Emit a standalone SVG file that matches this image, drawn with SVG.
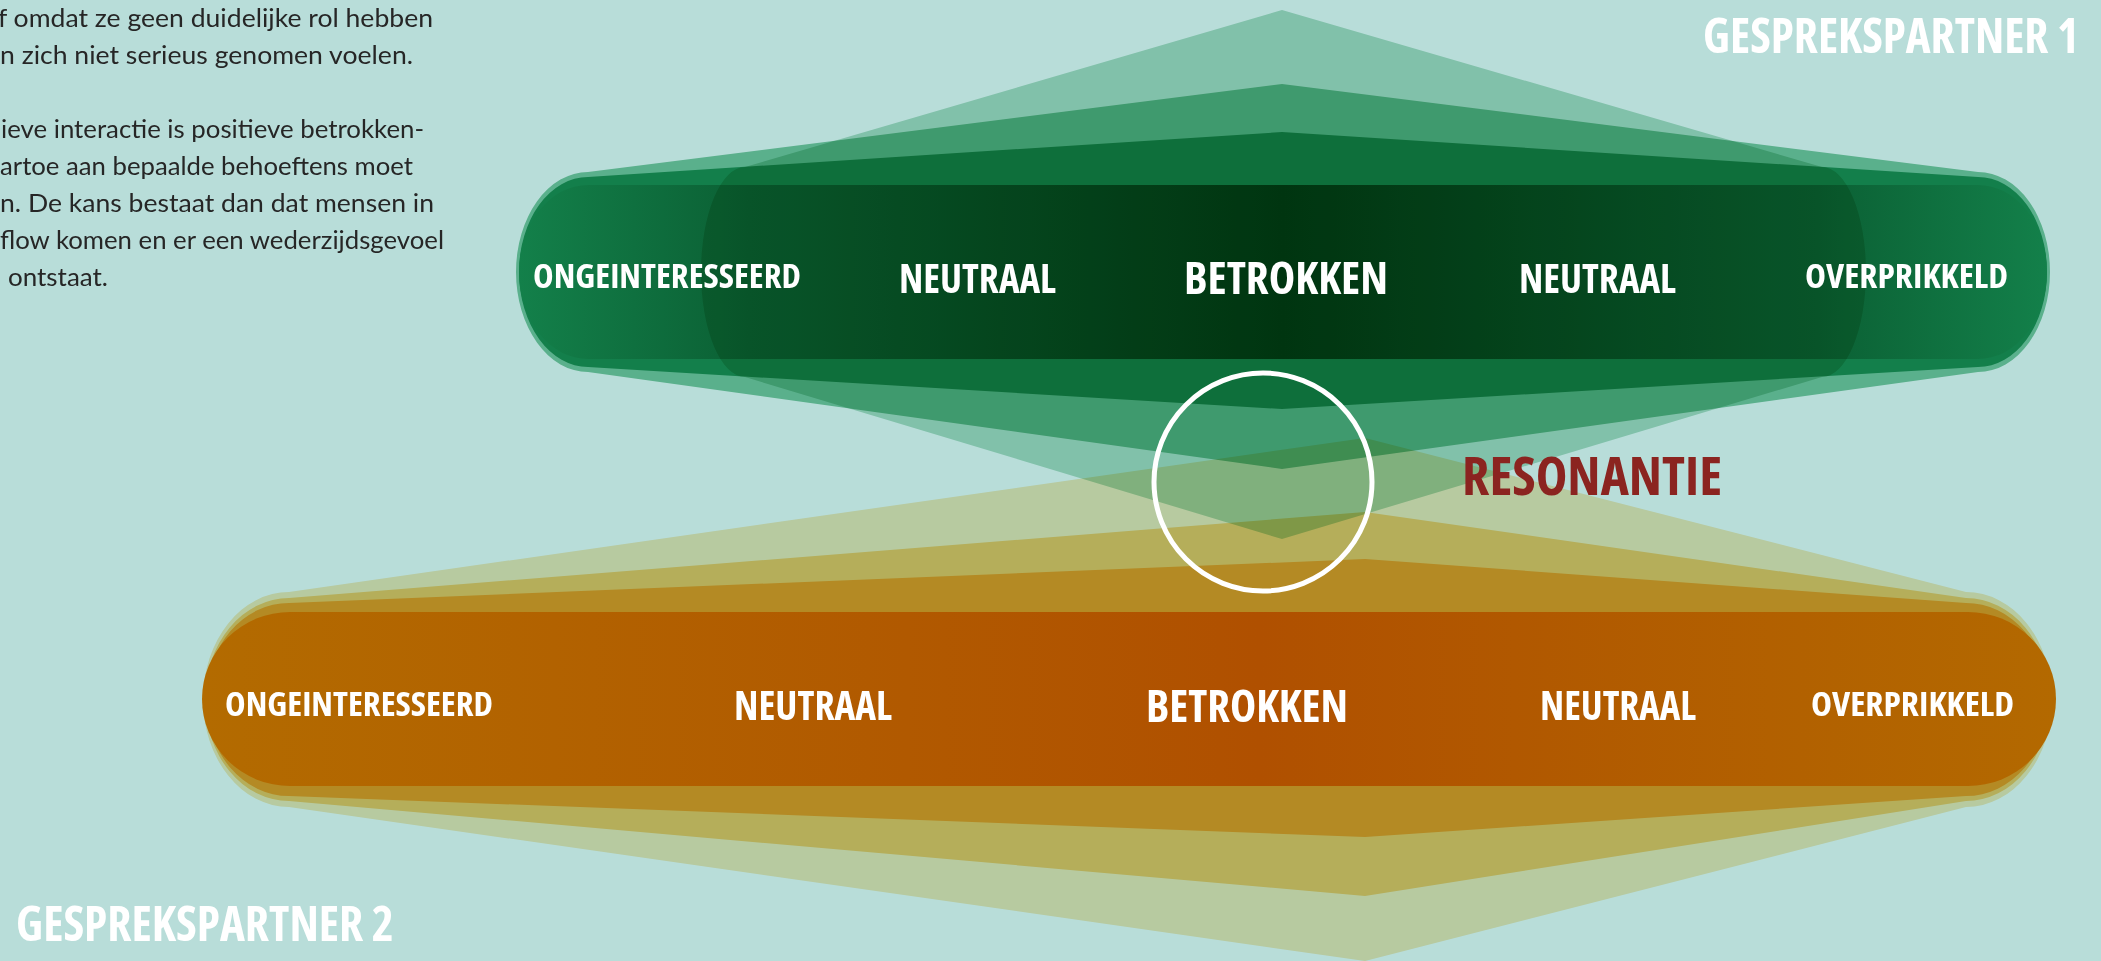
<svg xmlns="http://www.w3.org/2000/svg" width="2101" height="961" viewBox="0 0 2101 961">
<defs>
<style>
.mul{mix-blend-mode:multiply}
.lbl{font-family:"Open Sans","Liberation Sans",sans-serif;font-weight:700;font-stretch:condensed;fill:#ffffff}
.para{font-family:"Lato","Open Sans","Liberation Sans",sans-serif;font-size:25px;fill:#262626}
</style>
<linearGradient id="gband" gradientUnits="userSpaceOnUse" x1="519" y1="0" x2="2047" y2="0">
<stop offset="0" stop-color="#13804a"/>
<stop offset="0.15" stop-color="#0b6034"/>
<stop offset="0.5" stop-color="#003c14"/>
<stop offset="0.85" stop-color="#0b6034"/>
<stop offset="1" stop-color="#13804a"/>
</linearGradient>
<linearGradient id="oband" gradientUnits="userSpaceOnUse" x1="202" y1="0" x2="2056" y2="0">
<stop offset="0" stop-color="#b36b00"/>
<stop offset="0.57" stop-color="#b05000"/>
<stop offset="1" stop-color="#b36900"/>
</linearGradient>
</defs>
<rect id="background" x="0" y="0" width="2101" height="961" fill="#b8ddd9"/>

<g id="paragraph" class="para">
<text x="-2" y="27" textLength="435" lengthAdjust="spacingAndGlyphs">f omdat ze geen duidelijke rol hebben</text>
<text x="0" y="64" textLength="413" lengthAdjust="spacingAndGlyphs">n zich niet serieus genomen voelen.</text>
<text x="1" y="138" textLength="423" lengthAdjust="spacingAndGlyphs">ieve interactie is positieve betrokken-</text>
<text x="0" y="175" textLength="413" lengthAdjust="spacingAndGlyphs">artoe aan bepaalde behoeftens moet</text>
<text x="0" y="212" textLength="434" lengthAdjust="spacingAndGlyphs">n. De kans bestaat dan dat mensen in</text>
<text x="0" y="249" textLength="444" lengthAdjust="spacingAndGlyphs">flow komen en er een wederzijdsgevoel</text>
<text x="8" y="286" textLength="100" lengthAdjust="spacingAndGlyphs">ontstaat.</text>
</g>

<g id="partner2-shapes">
<path class="mul" fill="#fee9bc" d="M289,592 L1365,438 L1966,592 A86,107.5 0 0 1 1966,807 L1365,961 L289,807 A86,107.5 0 0 1 289,592Z"/>
<path class="mul" fill="#fcdc90" d="M289,598 L1365,512 L1966,598 A84,101.5 0 0 1 1966,801 L1365,896 L289,801 A84,101.5 0 0 1 289,598Z"/>
<path class="mul" fill="#feca66" d="M289,603 L1365,559 L1966,603 A83,96.5 0 0 1 1966,796 L1365,837 L289,796 A83,96.5 0 0 1 289,603Z"/>
<path fill="url(#oband)" d="M290,612 L1968,612 A88,87 0 0 1 1968,786 L290,786 A88,87 0 0 1 290,612Z"/>
</g>

<g id="partner1-shapes">
<path class="mul" fill="#7dcba4" d="M588,172 L1282,84 L1978,172 A72,100 0 0 1 1978,372 L1282,469 L588,372 A72,100 0 0 1 588,172Z"/>
<path class="mul" fill="#35b888" d="M588,177 L1282,132 L1978,177 A69,95 0 0 1 1978,367 L1282,409 L588,367 A69,95 0 0 1 588,177Z"/>
<path fill="url(#gband)" d="M588,185 L1978,185 A69,87 0 0 1 1978,359 L588,359 A69,87 0 0 1 588,185Z"/>
<path class="mul" fill="#b3dfc8" d="M745,167 L1282,10 L1822,167 A44,105 0 0 1 1822,377 L1282,539 L745,377 A44,105 0 0 1 745,167Z"/>
</g>

<g id="partner1-labels" class="lbl">
<text x="533" y="288" font-size="34" textLength="268" lengthAdjust="spacingAndGlyphs">ONGEINTERESSEERD</text>
<text x="899" y="293" font-size="41" textLength="157" lengthAdjust="spacingAndGlyphs">NEUTRAAL</text>
<text x="1184" y="294" font-size="45" textLength="204" lengthAdjust="spacingAndGlyphs">BETROKKEN</text>
<text x="1519" y="293" font-size="41" textLength="157" lengthAdjust="spacingAndGlyphs">NEUTRAAL</text>
<text x="1805" y="288" font-size="34" textLength="203" lengthAdjust="spacingAndGlyphs">OVERPRIKKELD</text>
</g>

<g id="partner2-labels" class="lbl">
<text x="225" y="716" font-size="34" textLength="268" lengthAdjust="spacingAndGlyphs">ONGEINTERESSEERD</text>
<text x="734" y="720" font-size="41" textLength="158" lengthAdjust="spacingAndGlyphs">NEUTRAAL</text>
<text x="1146" y="722" font-size="45" textLength="202" lengthAdjust="spacingAndGlyphs">BETROKKEN</text>
<text x="1540" y="720" font-size="41" textLength="156" lengthAdjust="spacingAndGlyphs">NEUTRAAL</text>
<text x="1811" y="716" font-size="34" textLength="203" lengthAdjust="spacingAndGlyphs">OVERPRIKKELD</text>
</g>

<g id="title-partner1" class="lbl">
<text x="1703" y="53" font-size="49" textLength="376" lengthAdjust="spacingAndGlyphs">GESPREKSPARTNER 1</text>
</g>
<g id="title-partner2" class="lbl">
<text x="16" y="941" font-size="49" textLength="378" lengthAdjust="spacingAndGlyphs">GESPREKSPARTNER 2</text>
</g>

<g id="resonantie">
<circle cx="1263" cy="482" r="109" fill="none" stroke="#ffffff" stroke-width="5"/>
<text x="1462" y="495" font-family="Open Sans, Liberation Sans, sans-serif" font-weight="700" font-stretch="condensed" font-size="53" fill="#8b2420" textLength="260" lengthAdjust="spacingAndGlyphs">RESONANTIE</text>
</g>
</svg>
